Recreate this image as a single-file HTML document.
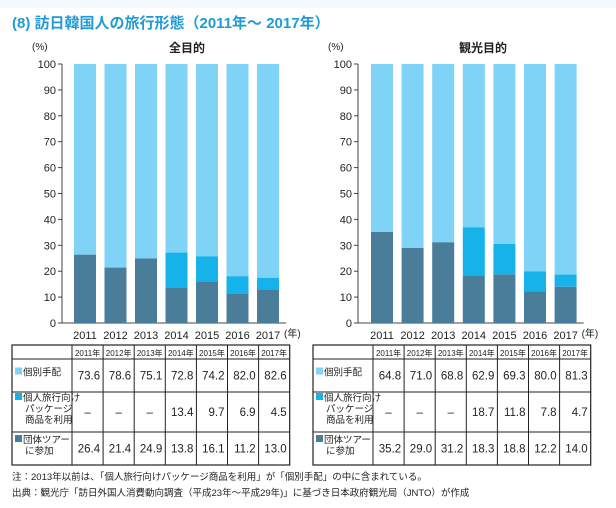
<!DOCTYPE html>
<html><head><meta charset="utf-8">
<style>
body{margin:0;background:#fff;width:616px;height:503px;overflow:hidden;font-family:"Liberation Sans","Noto Sans CJK JP",sans-serif}
svg text{font-family:"Liberation Sans","Noto Sans CJK JP",sans-serif}
</style></head><body>
<svg id="c" width="616" height="503" xmlns="http://www.w3.org/2000/svg">
<rect x="0" y="0" width="616" height="8" fill="#f4f9fc"/>
<text x="12" y="28" font-size="15" font-weight="bold" fill="#1f9ad6">(8) 訪日韓国人の旅行形態（2011年～ 2017年）</text>
<text x="12" y="480" font-size="9.5" fill="#222">注：2013年以前は、「個人旅行向けパッケージ商品を利用」が「個別手配」の中に含まれている。</text>
<text x="12" y="496" font-size="9.5" fill="#222">出典：観光庁「訪日外国人消費動向調査（平成23年～平成29年)」に基づき日本政府観光局（JNTO）が作成</text>
</svg>
<script>
const years=["2011","2012","2013","2014","2015","2016","2017"];
const allIndiv=[73.6,78.6,75.1,72.8,74.2,82.0,82.6];
const allPkg=[null,null,null,13.4,9.7,6.9,4.5];
const allGroup=[26.4,21.4,24.9,13.8,16.1,11.2,13.0];
const tourIndiv=[64.8,71.0,68.8,62.9,69.3,80.0,81.3];
const tourPkg=[null,null,null,18.7,11.8,7.8,4.7];
const tourGroup=[35.2,29.0,31.2,18.3,18.8,12.2,14.0];
const yTicks=[0,10,20,30,40,50,60,70,80,90,100];
const C1="#7fd3f7",C2="#16b3ea",C3="#4a7d99";
const svg=document.getElementById('c');
const NS="http://www.w3.org/2000/svg";
function mk(tag,at,txt){const e=document.createElementNS(NS,tag);for(const k in at)e.setAttribute(k,at[k]);if(txt!=null)e.textContent=txt;svg.appendChild(e);return e;}
const y0=323,y100=64;
const ys=v=>y0-(y0-y100)*v/100;
function chart(prefix,title,axisX,firstCenter,step,indiv,pkg,group,tx){
  const xs=i=>firstCenter+step*i;
  let e=mk('text',{x:axisX-30,y:50,'font-size':10,fill:'#222'},'(%)');
  
  
  e=mk('text',{x:axisX+125,y:52,'font-size':12,'font-weight':'bold','text-anchor':'middle',fill:'#222'},title);
  
  
  e=mk('line',{x1:axisX,y1:y100,x2:axisX,y2:y0,stroke:'#444','stroke-width':1});
  
  
  e=mk('line',{x1:axisX,y1:y0,x2:xs(6)+18,y2:y0,stroke:'#444','stroke-width':1});
  
  
  yTicks.forEach(t=>{
    let l=mk('line',{x1:axisX-4,y1:ys(t),x2:axisX,y2:ys(t),stroke:'#444'});
    
    
    let s=mk('text',{x:axisX-6,y:ys(t)+4,'font-size':11,'text-anchor':'end',fill:'#222'},String(t));
    
    
  });
  const w=22;
  years.forEach((yr,i)=>{
    const g=group[i],p=pkg[i]||0,d=indiv[i];
    let r=mk('rect',{x:xs(i)-w/2,y:ys(g),width:w,height:ys(0)-ys(g),fill:C3});
    
    
    if(p){r=mk('rect',{x:xs(i)-w/2,y:ys(g+p),width:w,height:ys(g)-ys(g+p),fill:C2});
    
    }
    r=mk('rect',{x:xs(i)-w/2,y:ys(100),width:w,height:ys(g+p)-ys(100),fill:C1});
    
    
    let t=mk('text',{x:xs(i),y:339,'font-size':11,'text-anchor':'middle',fill:'#222'},yr);
    
    
  });
  e=mk('text',{x:xs(6)+16,y:337,'font-size':10,fill:'#222'},'(年)');
  
  
  // table
  const lw=60,cw=31.1,rows=[345,359,392,432,465];
  const tw=lw+cw*7;
  e=mk('rect',{x:tx,y:rows[0],width:tw,height:rows[4]-rows[0],fill:'none',stroke:'#222','stroke-width':1.2});
  
  
  rows.slice(1,4).forEach(r=>{let l=mk('line',{x1:tx,y1:r,x2:tx+tw,y2:r,stroke:'#222'});
    
    });
  for(let i=0;i<7;i++){let x=tx+lw+cw*i;let l=mk('line',{x1:x,y1:rows[0],x2:x,y2:rows[4],stroke:'#222'});
    
    
    let h=mk('text',{x:x+cw/2,y:356,'font-size':8,'text-anchor':'middle',fill:'#222'},years[i]+'年');
    
    }
  const labels=[[['個別手配'],C1],[['個人旅行向け','パッケージ','商品を利用'],C2],[['団体ツアー','に参加'],C3]];
  const series=[indiv,pkg,group];
  labels.forEach((lb,ri)=>{
    const top=rows[ri+1],bot=rows[ri+2],mid=(top+bot)/2;
    const n=lb[0].length,lh=11,sy=mid-(n-1)*lh/2;
    let sq=mk('rect',{x:tx+3,y:sy-8,width:7,height:7,fill:lb[1]});
    
    
    lb[0].forEach((s,k)=>{let t=mk('text',{x:k==0?tx+11:tx+13,y:sy+k*lh,'font-size':9.5,fill:'#222'},s);
      
      });
    series[ri].forEach((v,i)=>{
      const x=tx+lw+cw*i;
      let t=mk('text',{x:v==null?x+cw/2:x+cw-3,y:mid+4,'font-size':11.5,'text-anchor':v==null?'middle':'end',fill:'#222'},v==null?'–':v.toFixed(1));
      
      
    });
  });
}
chart('all','全目的',62,85,30.5,allIndiv,allPkg,allGroup,12);
chart('tourism','観光目的',358,382,30.6,tourIndiv,tourPkg,tourGroup,313);
</script>
</body></html>
